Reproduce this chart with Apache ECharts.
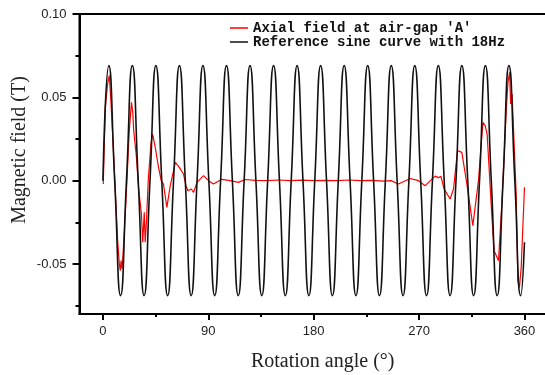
<!DOCTYPE html>
<html><head><meta charset="utf-8">
<script src="https://cdn.jsdelivr.net/npm/echarts@6/dist/echarts.min.js"></script>
<style>html,body{margin:0;padding:0;background:#fff}#c{width:545px;height:375px}</style>
</head><body><div id="c"></div>
<script>
// Tick labels
var xTickLabels = [0, 90, 180, 270, 360];
var xMinorTicks = [45, 135, 225, 315];
var yTickLabels = [-0.05, 0, 0.05, 0.10];
var yMinorTicks = [-0.075, -0.025, 0.025, 0.075];

// Series names
var seriesNames = ["Axial field at air-gap 'A'", "Reference sine curve with 18Hz"];

var redAngle = [0.3, 2.0, 4.0, 5.4, 6.5, 8.5, 10.5, 12.5, 14.0, 14.8, 15.5, 16.3, 17.0, 18.5, 20.5, 22.5, 24.4, 25.5, 26.3, 27.0,
  28.5, 30.5, 32.9, 34.0, 35.3, 36.1, 37.2, 38.7, 41.0, 42.4, 43.0, 44.7, 47.5, 49.8, 51.7, 54.6, 57.5, 61.9, 65.2, 68.8,
  70.9, 72.6, 75.4, 77.4, 80.3, 85.9, 90.2, 94.4, 101.6, 108.7, 115.8, 121.5, 130, 140, 150, 160, 170, 180, 190, 200,
  210, 220, 230, 240, 246, 252.4, 262.4, 269.5, 275.2, 283.7, 286.6, 288.6, 291.4, 296.5, 299.4, 302.8, 306.5, 310.8, 315.9, 320.7,
  324.5, 326.4, 328.1, 332.2, 334.1, 337.8, 341.0, 344.5, 345.9, 347.3, 348.2, 349.4, 352.9, 354.4, 355.7, 357.2, 360.0];
var redValue = [-0.002, 0.044, 0.058, 0.063, 0.052, 0.025, -0.005, -0.035, -0.050, -0.054, -0.048, -0.053, -0.046, -0.028, 0.000, 0.030, 0.047, 0.041, 0.030, 0.031,
  0.015, -0.005, -0.020, -0.037, -0.019, -0.037, -0.024, 0.000, 0.022, 0.028, 0.026, 0.020, 0.008, 0.000, -0.002, -0.016, -0.003, 0.011, 0.008, 0.004,
  -0.003, -0.006, -0.005, -0.007, -0.001, 0.003, 0.000, -0.002, 0.0008, 0.0, -0.001, 0.0007, 0.0002, 0.0, 0.0004, 0.0, 0.0003, 0.0, 0.0002, 0.0,
  0.0004, 0.0, 0.0002, -0.0003, 0.0, -0.002, 0.0013, 0.0, -0.003, 0.0027, 0.0018, 0.0027, -0.005, -0.011, -0.005, 0.018, 0.017, -0.002, -0.027, 0.000,
  0.035, 0.033, 0.028, -0.022, -0.042, -0.048, -0.010, 0.043, 0.059, 0.065, 0.046, 0.052, -0.008, -0.060, -0.064, -0.052, -0.004];

// Reference sine (black): zero crossings, peaks and troughs
var refAngle = [0, 5.03, 10.05, 15.08, 20.1, 25.13, 30.15, 35.18, 40.2, 45.23, 50.25, 55.28, 60.3, 65.33, 70.35, 75.38,
  80.4, 85.43, 90.45, 95.48, 100.5, 105.53, 110.55, 115.58, 120.6, 125.63, 130.65, 135.68, 140.7, 145.73, 150.75, 155.78,
  160.8, 165.83, 170.85, 175.88, 180.9, 185.93, 190.95, 195.98, 201.0, 206.03, 211.05, 216.08, 221.1, 226.13, 231.15, 236.18,
  241.2, 246.23, 251.25, 256.28, 261.3, 266.33, 271.35, 276.38, 281.4, 286.43, 291.45, 296.48, 301.5, 306.53, 311.55, 316.58,
  321.6, 326.63, 331.65, 336.68, 341.7, 346.73, 351.75, 356.78, 360.0];
var refValue = [0, 0.069, 0, -0.069, 0, 0.069, 0, -0.069, 0, 0.069, 0, -0.069, 0, 0.069, 0, -0.069,
  0, 0.069, 0, -0.069, 0, 0.069, 0, -0.069, 0, 0.069, 0, -0.069, 0, 0.069, 0, -0.069,
  0, 0.069, 0, -0.069, 0, 0.069, 0, -0.069, 0, 0.069, 0, -0.069, 0, 0.069, 0, -0.069,
  0, 0.069, 0, -0.069, 0, 0.069, 0, -0.069, 0, 0.069, 0, -0.069, 0, 0.069, 0, -0.069,
  0, 0.069, 0, -0.069, 0, 0.069, 0, -0.069, -0.037];

function pairs(a, b) { return a.map(function (v, i) { return [v, b[i]]; }); }

var chart = echarts.init(document.getElementById('c'), null, {renderer: 'canvas'});
var lblStyle = {color: '#222', fontFamily: 'Liberation Sans, Arial, sans-serif', fontSize: 13};
var titleStyle = {color: '#222', fontFamily: 'Liberation Serif, serif', fontSize: 20};
chart.setOption({
  animation: false,
  backgroundColor: '#fff',
  grid: {left: 79.5, top: 14, width: 468.4, height: 300, containLabel: false, outerBoundsMode: 'none',
    show: true, borderColor: '#000', borderWidth: 2, backgroundColor: 'transparent'},
  legend: {
    orient: 'vertical', left: 230, top: 21, itemWidth: 18, itemHeight: 1.5, itemGap: 0, icon: 'rect', padding: 0,
    data: seriesNames,
    textStyle: {fontFamily: 'Liberation Mono, monospace', fontWeight: 'bold', fontSize: 14, color: '#111', lineHeight: 14}
  },
  xAxis: [{
    type: 'value', min: -20, max: 380, position: 'bottom',
    name: 'Rotation angle (°)', nameLocation: 'middle', nameGap: 38, nameMoveOverlap: false,
    nameTextStyle: Object.assign({padding: [0, 0, 0, 18]}, titleStyle),
    axisLine: {show: true, onZero: false, lineStyle: {color: '#000', width: 2}},
    axisTick: {show: true, inside: false, length: 6, customValues: xTickLabels, lineStyle: {color: '#000', width: 2}},
    axisLabel: Object.assign({customValues: xTickLabels, margin: 11}, lblStyle),
    splitLine: {show: false}
  }, {
    type: 'value', min: -20, max: 380, position: 'bottom',
    axisLine: {show: false, onZero: false},
    axisTick: {show: true, inside: false, length: 3, customValues: xMinorTicks, lineStyle: {color: '#000', width: 2}},
    axisLabel: {show: false}, splitLine: {show: false}
  }],
  yAxis: [{
    type: 'value', min: -0.08, max: 0.10, position: 'left',
    name: 'Magnetic field (T)', nameLocation: 'middle', nameGap: 50, nameMoveOverlap: false,
    nameTextStyle: Object.assign({padding: [0, 0, 0, 28]}, titleStyle),
    axisLine: {show: true, onZero: false, lineStyle: {color: '#000', width: 2}},
    axisTick: {show: true, inside: false, length: 7, customValues: yTickLabels, lineStyle: {color: '#000', width: 2}},
    axisLabel: Object.assign({customValues: yTickLabels, margin: 13, formatter: function (v) { return v.toFixed(2); }}, lblStyle),
    splitLine: {show: false}
  }, {
    type: 'value', min: -0.08, max: 0.10, position: 'left',
    axisLine: {show: false, onZero: false},
    axisTick: {show: true, inside: false, length: 4, customValues: yMinorTicks, lineStyle: {color: '#000', width: 2}},
    axisLabel: {show: false}, splitLine: {show: false}
  }],
  series: [{
    name: seriesNames[0], type: 'line', symbol: 'none', xAxisIndex: 0, yAxisIndex: 0,
    data: pairs(redAngle, redValue),
    lineStyle: {color: '#ff0000', width: 1.2}, itemStyle: {color: '#ff0000'}
  }, {
    name: seriesNames[1], type: 'line', symbol: 'none', smooth: 0.55, xAxisIndex: 0, yAxisIndex: 0,
    data: pairs(refAngle, refValue),
    lineStyle: {color: '#111', width: 1.6}, itemStyle: {color: '#111'}
  }]
});
</script></body></html>
